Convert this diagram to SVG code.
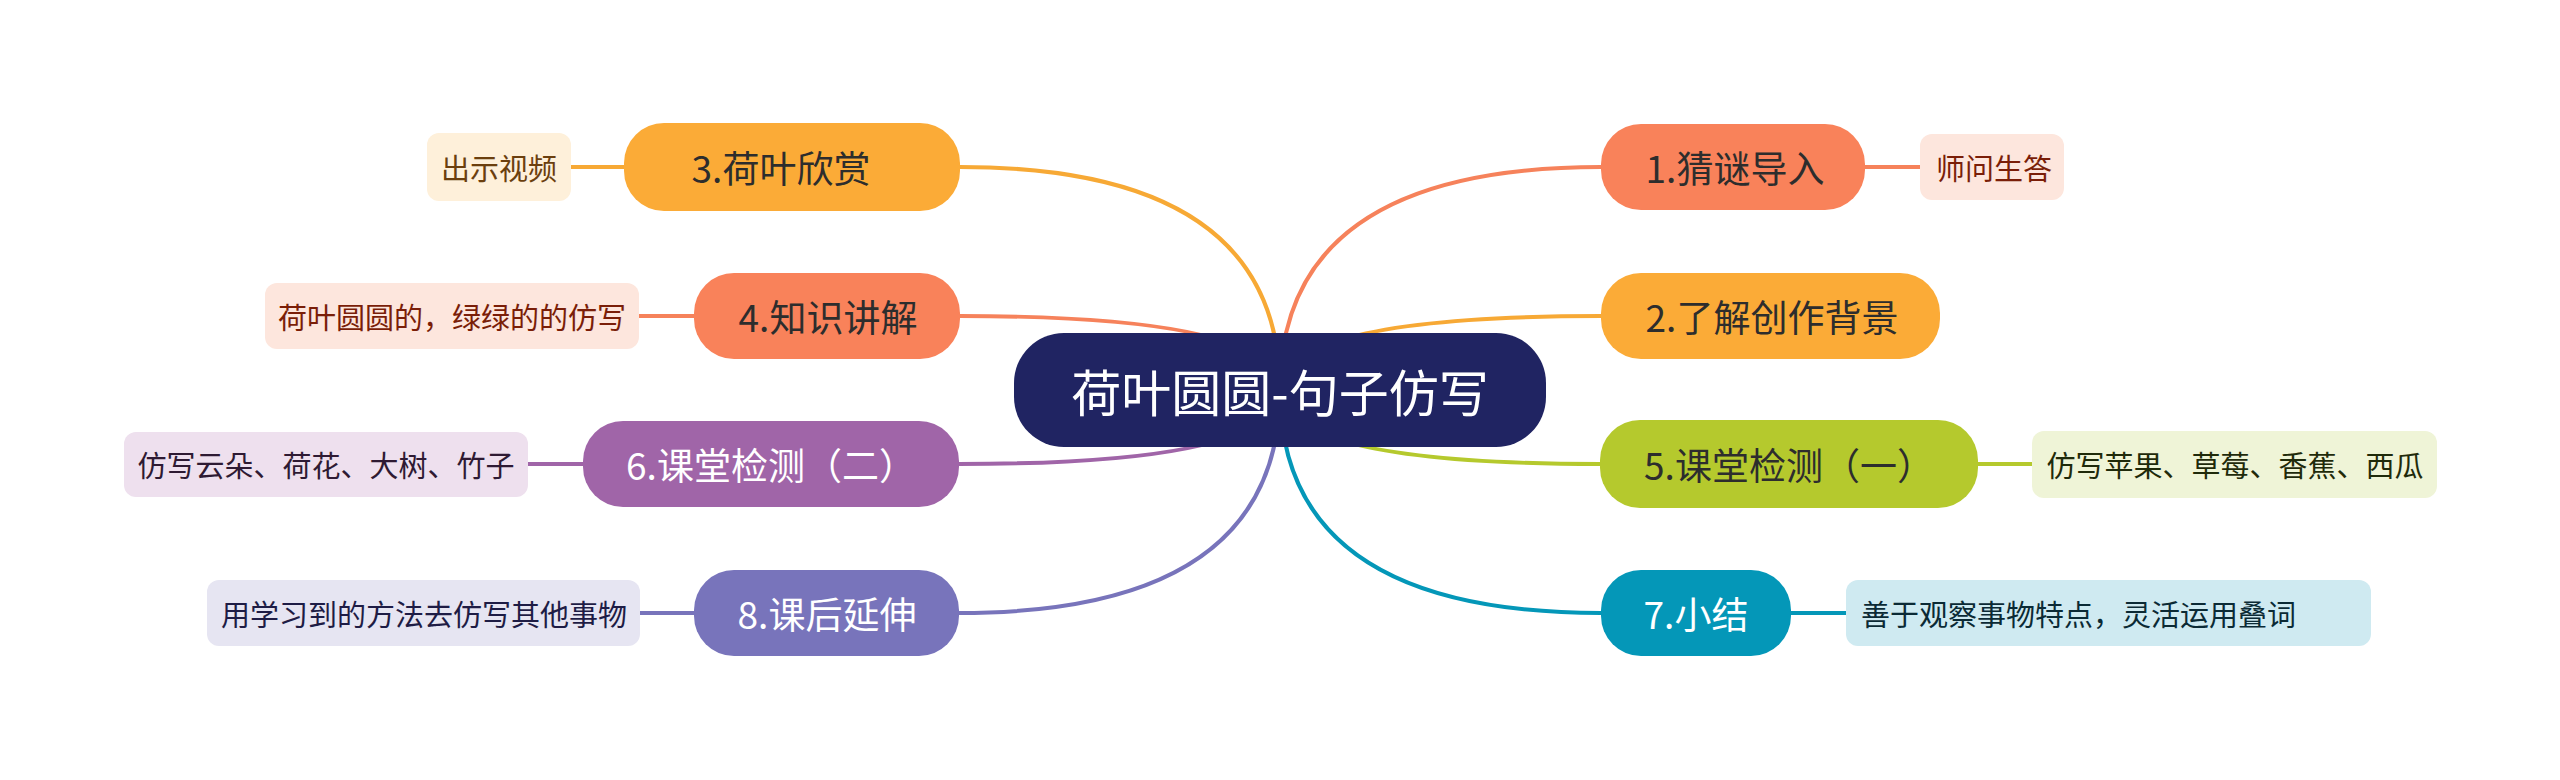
<svg xmlns="http://www.w3.org/2000/svg" width="2560" height="780" viewBox="0 0 2560 780">
<style>
text{font-family:"Noto Sans CJK SC","Noto Sans",sans-serif;dominant-baseline:central;text-anchor:middle}
.main{font-size:37px}
.sub{font-size:29px}
.root{font-size:50px;fill:#ffffff}
.dark{fill:#2d2d2d}
.light{fill:#ffffff}
.conn path,.conn line{fill:none;stroke-width:4;stroke-linecap:round}
</style>
<rect width="2560" height="780" fill="#ffffff"/>
<g id="connectors" class="conn">
<path d="M960,167 Q1280,167 1280,390" stroke="#F7A935"/>
<path d="M1601,167 Q1280,167 1280,390" stroke="#F6825B"/>
<path d="M960,316 Q1280,316 1280,390" stroke="#F6825B"/>
<path d="M1601,316 Q1280,316 1280,390" stroke="#F7A935"/>
<path d="M959,464 Q1280,464 1280,390" stroke="#A065A8"/>
<path d="M1600,464 Q1280,464 1280,390" stroke="#B5C92D"/>
<path d="M959,613 Q1280,613 1280,390" stroke="#7874BB"/>
<path d="M1601,613 Q1280,613 1280,390" stroke="#0497B8"/>
<line x1="1865" y1="167" x2="1920" y2="167" stroke="#F6825B"/>
<line x1="571" y1="167" x2="624" y2="167" stroke="#F7A935"/>
<line x1="639" y1="316" x2="694" y2="316" stroke="#F6825B"/>
<line x1="1978" y1="464" x2="2032" y2="464" stroke="#B5C92D"/>
<line x1="528" y1="464" x2="583" y2="464" stroke="#A065A8"/>
<line x1="1791" y1="613" x2="1846" y2="613" stroke="#0497B8"/>
<line x1="640" y1="613" x2="694" y2="613" stroke="#7874BB"/>
</g>
<g id="root">
<rect x="1014" y="333" width="532" height="114" rx="50" fill="#202462"/>
<text class="root" x="1280" y="390">荷叶圆圆-句子仿写</text>
</g>
<g id="n1">
<rect x="1601" y="124" width="264" height="86" rx="40" fill="#F9825A"/>
<text class="main dark" x="1735" y="167">1.猜谜导入</text>
</g>
<g id="n1c">
<rect x="1920" y="134" width="144" height="66" rx="12" fill="#FDE6DD"/>
<text class="sub" x="1994" y="167" fill="#7A1E08">师问生答</text>
</g>
<g id="n2">
<rect x="1601" y="273" width="339" height="86" rx="40" fill="#FBAB37"/>
<text class="main dark" x="1772" y="316">2.了解创作背景</text>
</g>
<g id="n3">
<rect x="624" y="123" width="336" height="88" rx="40" fill="#FBAB37"/>
<text class="main dark" x="781" y="167">3.荷叶欣赏</text>
</g>
<g id="n3c">
<rect x="427" y="133" width="144" height="68" rx="12" fill="#FEF0DA"/>
<text class="sub" x="499" y="167" fill="#6B3F0E">出示视频</text>
</g>
<g id="n4">
<rect x="694" y="273" width="266" height="86" rx="40" fill="#F9825A"/>
<text class="main dark" x="828" y="316">4.知识讲解</text>
</g>
<g id="n4c">
<rect x="265" y="283" width="374" height="66" rx="12" fill="#FDE6DD"/>
<text class="sub" x="452" y="316" fill="#7A1E08">荷叶圆圆的，绿绿的的仿写</text>
</g>
<g id="n5">
<rect x="1600" y="420" width="378" height="88" rx="40" fill="#B5C92D"/>
<text class="main dark" x="1789" y="464">5.课堂检测（一）</text>
</g>
<g id="n5c">
<rect x="2032" y="431" width="405" height="67" rx="12" fill="#EFF4D7"/>
<text class="sub" x="2235" y="464" fill="#1F2A0A">仿写苹果、草莓、香蕉、西瓜</text>
</g>
<g id="n6">
<rect x="583" y="421" width="376" height="86" rx="40" fill="#A065A8"/>
<text class="main light" x="771" y="464">6.课堂检测（二）</text>
</g>
<g id="n6c">
<rect x="124" y="432" width="404" height="65" rx="12" fill="#EEE0EE"/>
<text class="sub" x="326" y="464" fill="#2E1A33">仿写云朵、荷花、大树、竹子</text>
</g>
<g id="n7">
<rect x="1601" y="570" width="190" height="86" rx="40" fill="#0497B8"/>
<text class="main light" x="1696" y="613">7.小结</text>
</g>
<g id="n7c">
<rect x="1846" y="580" width="525" height="66" rx="12" fill="#CFEAF1"/>
<text class="sub" x="1861" y="613" fill="#0B2A35" style="text-anchor:start">善于观察事物特点，灵活运用叠词</text>
</g>
<g id="n8">
<rect x="694" y="570" width="265" height="86" rx="40" fill="#7874BB"/>
<text class="main light" x="827" y="613">8.课后延伸</text>
</g>
<g id="n8c">
<rect x="207" y="580" width="433" height="66" rx="12" fill="#E6E5F2"/>
<text class="sub" x="424" y="613" fill="#1E1C45">用学习到的方法去仿写其他事物</text>
</g>
</svg>
